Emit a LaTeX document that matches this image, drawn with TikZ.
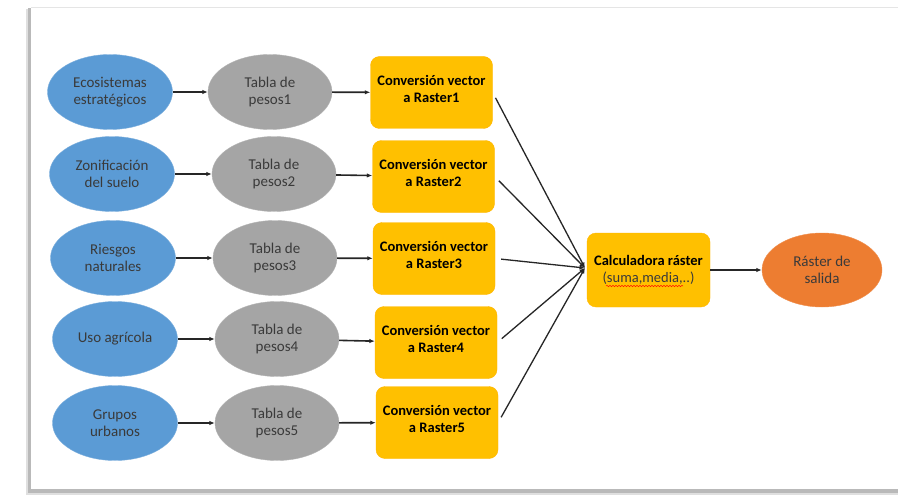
\documentclass[tikz,border=0pt]{standalone}
\usepackage{fontspec}
\setmainfont{Carlito}
\usetikzlibrary{shapes.geometric,arrows.meta,decorations.pathmorphing}
\definecolor{cblue}{HTML}{5B9BD5}
\definecolor{cgray}{HTML}{A5A5A5}
\definecolor{cyellow}{HTML}{FFC000}
\definecolor{corange}{HTML}{ED7D31}
\definecolor{ctext}{HTML}{3A3A3A}
\tikzset{
  srcnode/.style={ellipse, fill=cblue, draw=cblue!80!white, minimum width=125pt, minimum height=75pt, inner sep=0pt, align=center, text=ctext, font=\fontsize{15}{17.5}\selectfont},
  tabnode/.style={ellipse, fill=cgray, draw=cgray!85!white, minimum width=124pt, minimum height=75pt, inner sep=0pt, align=center, text=ctext, font=\fontsize{15}{17.5}\selectfont},
  convbox/.style={rounded corners=9pt, fill=cyellow, draw=cyellow!85!orange, minimum width=122pt, minimum height=72pt, inner sep=0pt},
  convtext/.style={align=center, text=black, font=\fontsize{14.5}{17.5}\selectfont\bfseries, yshift=3.5pt, inner sep=0pt},
  outnode/.style={ellipse, fill=corange, draw=corange!85!white, minimum width=120pt, minimum height=74pt, inner sep=0pt, align=center, text=ctext, font=\fontsize{15}{17.5}\selectfont},
  arr/.style={-{Latex[length=5.5pt,width=4.5pt]}, line width=1.6pt, black!85},
  conv/.style={-{Latex[length=5.5pt,width=4.5pt]}, line width=1.3pt, black!85, shorten <=6pt}
}
\begin{document}
\begin{tikzpicture}[x=1pt,y=-1pt]
\useasboundingbox (0,0) rectangle (898,495);
\fill[white] (0,0) rectangle (898,495);
% card with shadow
\fill[gray!25] (26,9) rectangle (898,495);
\fill[gray!55] (28,8) rectangle (898,493);
\fill[white] (31,7) rectangle (898,489);
\draw[gray!20, line width=0.8pt] (31,7) -- (898,7);

% sources
\node[srcnode] (b1) at (110,92) {Ecosistemas\\estratégicos};
\node[srcnode] (b2) at (112,174) {Zonificación\\del suelo};
\node[srcnode] (b3) at (113,258) {Riesgos\\naturales};
\node[srcnode] (b4) at (115,339) {Uso agrícola};
\node[srcnode] (b5) at (115,423) {Grupos\\urbanos};

% tables
\node[tabnode] (g1) at (270,92) {Tabla de\\pesos1};
\node[tabnode] (g2) at (274,174) {Tabla de\\pesos2};
\node[tabnode] (g3) at (275,258) {Tabla de\\pesos3};
\node[tabnode] (g4) at (277,339) {Tabla de\\pesos4};
\node[tabnode] (g5) at (277,423) {Tabla de\\pesos5};

% conversion boxes
\node[convbox, label={[convtext]center:Conversión vector\\a Raster1}] (y1) at (431.5,92.5) {};
\node[convbox, label={[convtext]center:Conversión vector\\a Raster2}] (y2) at (433.5,176.5) {};
\node[convbox, label={[convtext]center:Conversión vector\\a Raster3}] (y3) at (434,258.5) {};
\node[convbox, label={[convtext]center:Conversión vector\\a Raster4}] (y4) at (436,342.5) {};
\node[convbox, label={[convtext]center:Conversión vector\\a Raster5}] (y5) at (437,422.5) {};

% calculator and output
\node[convbox, minimum width=123pt, minimum height=74pt, align=center, font=\fontsize{14.5}{17.5}\selectfont\bfseries] (calc) at (648.5,270) {Calculadora ráster\\{\mdseries\color{ctext}(suma,media,..)}};
\node[outnode] (out) at (822,270) {Ráster de\\salida};
\draw[red!80!orange, line width=0.5pt, decorate, decoration={snake, segment length=3pt, amplitude=0.7pt}] (606,286) -- (683,286);

% arrows
\foreach \i in {1,...,5}{
  \draw[arr] (b\i) -- (g\i);
  \draw[arr] (g\i) -- (y\i);
}
\coordinate (hub) at (585,268);
\draw[conv] (y1.east) -- (hub);
\draw[conv] (y2.east) -- (hub);
\draw[conv] (y3.east) -- (hub);
\draw[conv] (y4.east) -- (hub);
\draw[conv] (y5.east) -- (hub);
\draw[arr] (calc) -- (out);
\end{tikzpicture}
\end{document}
